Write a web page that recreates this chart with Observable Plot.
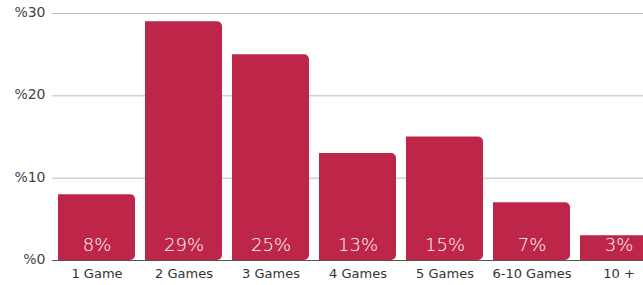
<!DOCTYPE html>
<html>
<head>
<meta charset="utf-8">
<script src="https://cdn.jsdelivr.net/npm/d3@7"></script>
<script src="https://cdn.jsdelivr.net/npm/@observablehq/plot@0.6"></script>
<style>
  html, body { margin: 0; padding: 0; background: #fff; overflow: hidden; }
  #chart { width: 643px; height: 285px; overflow: hidden; }
  #chart svg { max-width: none !important; }
</style>
</head>
<body>
<div id="chart"></div>
<script>
const categories = ["1 Game", "2 Games", "3 Games", "4 Games", "5 Games", "6-10 Games", "10 +"];
const values = [8, 29, 25, 13, 15, 7, 3];
const yTicks = [0, 10, 20, 30];

const data = categories.map((c, i) => ({category: c, value: values[i]}));
const color = "#bd2648";
const font = "DejaVu Sans, sans-serif";

const chart = Plot.plot({
  width: 663,
  height: 285,
  marginLeft: 52,
  marginRight: 0,
  marginTop: 13,
  marginBottom: 25,
  style: {fontFamily: font, fontSize: "13px", color: "#333", background: "#fff", maxWidth: "none"},
  x: {domain: categories, paddingInner: 0.12, paddingOuter: 0.06, label: null},
  y: {domain: [0, 30], label: null},
  marks: [
    Plot.ruleY(yTicks.filter(d => d > 0), {stroke: "#bbb", strokeWidth: 1}),
    Plot.barY(data, {x: "category", y: "value", fill: color, ry2: 5, rx2: 5, ry1: 0, rx1: 0}),
    Plot.ruleY([0], {stroke: "#555", strokeWidth: 1}),
    Plot.text(data, {x: "category", y: 0, text: d => d.value + "%", fill: "#ffffff", fontSize: 18, dy: -15, fontWeight: 300}),
    Plot.axisY({ticks: yTicks, tickSize: 0, tickPadding: 7, tickFormat: d => "%" + d, fontSize: 14, fill: "#444", dy: -1}),
    Plot.axisX({tickSize: 0, tickPadding: 8, fontSize: 13, fill: "#333"})
  ]
});
document.getElementById("chart").appendChild(chart);
</script>
</body>
</html>
